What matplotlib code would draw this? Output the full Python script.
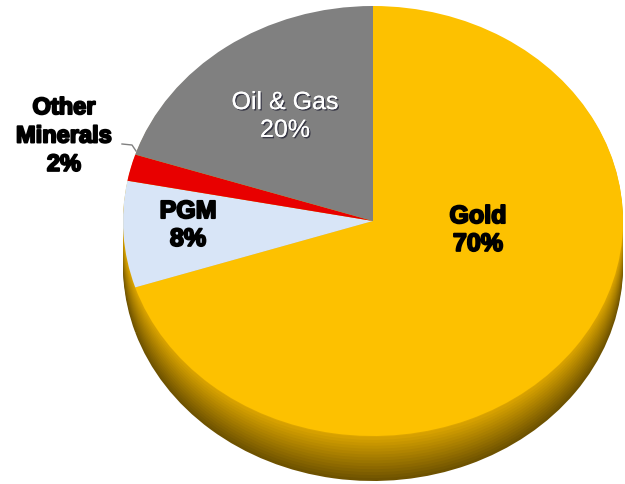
import matplotlib
matplotlib.use('Agg')
import matplotlib.pyplot as plt
import matplotlib.patheffects as pe
import matplotlib.colors as mcolors
import numpy as np

categories = ['Gold', 'PGM', 'Other Minerals', 'Oil & Gas']
shares = [70, 8, 2, 20]
label_texts = ['Gold\n70%', 'PGM\n8%', 'Other\nMinerals\n2%', 'Oil & Gas\n20%']
colors = ['#FDC100', '#D8E5F7', '#E80000', '#808080']

W, H = 625, 485
k = 0.86  # vertical squash of the tilted pie

fig = plt.figure(figsize=(6.25, 4.85), dpi=100)
ax = fig.add_axes([0, 0, 1, 1])


def py(y_img):
    return (H - y_img) / k


cx, cy, r = 373, 222, 250

# 3D side (thickness) drawn as stacked, shifted copies of the pie
depth = 44
n = 16
dark = np.array(mcolors.to_rgb('#6E5200'))
mid = np.array(mcolors.to_rgb('#DDA600'))
for i in range(n):
    t = i / (n - 1)
    off = depth * (1 - t) + 1
    col = dark * (1 - t) + mid * t
    ax.pie(shares, colors=[col] * len(shares), startangle=90, counterclock=False,
           center=(cx, py(cy + off)), radius=r, wedgeprops=dict(linewidth=0))

# top surface
ax.pie(shares, colors=colors, startangle=90, counterclock=False,
       center=(cx, py(cy)), radius=r, wedgeprops=dict(linewidth=0))

ax.set_aspect('auto')
ax.set_xlim(0, W)
ax.set_ylim(0, H / k)
ax.axis('off')

bold_fx = [pe.withStroke(linewidth=1.4, foreground='black')]
font = 'Liberation Sans'

# Gold
ax.text(478, py(231), label_texts[0], ha='center', va='center', fontsize=18,
        fontweight='bold', family=font, color='black', linespacing=1.2,
        path_effects=bold_fx)
# PGM
ax.text(188, py(226), label_texts[1], ha='center', va='center', fontsize=18,
        fontweight='bold', family=font, color='black', linespacing=1.2,
        path_effects=bold_fx)
# Other Minerals
ax.text(64, py(137), label_texts[2], ha='center', va='center', fontsize=17,
        fontweight='bold', family=font, color='black', linespacing=1.3,
        path_effects=bold_fx)
# Oil & Gas
ax.text(285, py(117), label_texts[3], ha='center', va='center', fontsize=18,
        family=font, color='white', linespacing=1.2,
        path_effects=[pe.withSimplePatchShadow(offset=(1, -1), shadow_rgbFace='#303040', alpha=0.9),
                      pe.Normal()])

# leader line for Other Minerals
ax.plot([122, 132, 136], [py(145), py(146), py(152)], color='#808080', lw=1)

fig.savefig('out.png', dpi=100)
